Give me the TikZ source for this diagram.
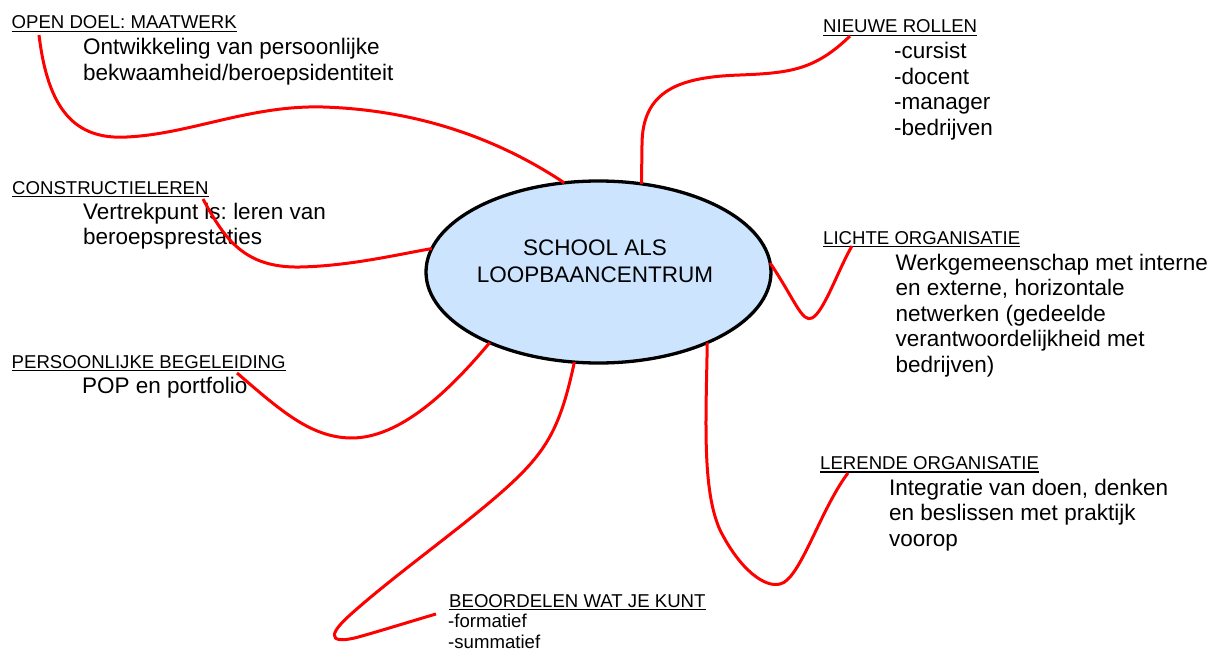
\documentclass[tikz,border=0pt]{standalone}
\usepackage{fontspec}
\setmainfont{Liberation Sans}
\usetikzlibrary{shapes.geometric}
\definecolor{ellfill}{RGB}{204,228,254}
\newcommand{\hdrfont}{\fontsize{18.6}{21}\selectfont}
\newcommand{\bodyfont}{\fontsize{22.5}{25.5}\selectfont}
\newcommand{\hubfont}{\fontsize{22.5}{27}\selectfont}
\frenchspacing
\begin{document}
\begin{tikzpicture}[x=1pt,y=-1pt,
  hdr/.style={font=\hdrfont, inner sep=0pt, anchor=base west, text=black},
  body/.style={font=\bodyfont, inner sep=0pt, anchor=base west, text=black},
  small/.style={font=\hdrfont, inner sep=0pt, anchor=base west, text=black},
  uline/.style={line width=1.4pt, draw=black},
  link/.style={draw=red, line width=3pt},
  hub/.style={ellipse, draw=black, line width=3.3pt, fill=ellfill,
    minimum width=345pt, minimum height=182pt, inner sep=0pt, outer sep=0pt}]
\useasboundingbox (0,0) rectangle (1216,650);

% central ellipse
\node[hub] (c) at (598.5,272) {};

% headers
\node[hdr] (h1) at (11.5,29) {OPEN DOEL: MAATWERK};
\node[hdr] (h2) at (823,33) {NIEUWE ROLLEN};
\node[hdr] (h3) at (12,194) {CONSTRUCTIELEREN};
\node[hdr] (h4) at (11.5,368) {PERSOONLIJKE BEGELEIDING};
\node[hdr] (h5) at (823,244) {LICHTE ORGANISATIE};
\node[hdr] (h6) at (820,469.5) {LERENDE ORGANISATIE};
\node[hdr] (h7) at (449,607) {BEOORDELEN WAT JE KUNT};
\foreach \h in {h1,h2,h3,h4,h5,h6,h7}
  \draw[uline] ([yshift=-2.3pt]\h.base west) -- ([yshift=-2.3pt]\h.base east);

% bodies
\node[body] (b1) at (83,55) {\begin{tabular}[t]{@{}l@{}}Ontwikkeling van persoonlijke\\bekwaamheid/beroepsidentiteit\end{tabular}};
\node[body] (b2) at (894,59) {\begin{tabular}[t]{@{}l@{}}-cursist\\-docent\\-manager\\-bedrijven\end{tabular}};
\node[body] (b3) at (83,219) {\begin{tabular}[t]{@{}l@{}}Vertrekpunt is: leren van\\beroepsprestaties\end{tabular}};
\node[body] (b4) at (82,393) {POP en portfolio};
\node[body] (b5) at (895.5,270) {\begin{tabular}[t]{@{}l@{}}Werkgemeenschap met interne\\en externe, horizontale\\netwerken (gedeelde\\verantwoordelijkheid met\\bedrijven)\end{tabular}};
\node[body] (b6) at (889,495) {\begin{tabular}[t]{@{}l@{}}Integratie van doen, denken\\en beslissen met praktijk\\voorop\end{tabular}};
\node[small] (b7) at (448,627) {\begin{tabular}[t]{@{}l@{}}-formatief\\-summatief\end{tabular}};

% hub text
\node[font=\hubfont, inner sep=0pt, anchor=base] (ct) at (595,255)
  {\begin{tabular}[t]{@{}c@{}}SCHOOL ALS\\LOOPBAANCENTRUM\end{tabular}};

% free ends of connectors
\coordinate (e1) at (39,35);
\coordinate (e2) at (850,36);
\coordinate (e3) at (203,199);
\coordinate (e4) at (237,373);
\coordinate (e5) at (436,614);
\coordinate (e6) at (852,246);
\coordinate (e7) at (848,473);

% connectors
\draw[link] (e1) .. controls (48,110) and (75,140) .. (127,137)
  .. controls (190,134) and (250,105) .. (323,107)
  .. controls (420,110) and (500,140) .. (c.111);
\draw[link] (e2) .. controls (815,70) and (790,73) .. (740,75)
  .. controls (680,77) and (642,90) .. (642,145) -- (c.64);
\draw[link] (e3) .. controls (225,240) and (245,268) .. (300,267)
  .. controls (350,266) and (400,254) .. (c.172);
\draw[link] (e4) .. controls (280,410) and (310,437) .. (350,438)
  .. controls (400,439) and (450,390) .. (c.213);
\draw[link] (c.255) .. controls (562,420) and (550,445) .. (520,475)
  .. controls (480,515) and (400,570) .. (350,615)
  .. controls (322,640) and (335,644) .. (362,636)
  .. controls (390,628) and (412,621) .. (e5);
\draw[link] (c.3) .. controls (795,300) and (802,323) .. (812,318)
  .. controls (824,312) and (838,270) .. (e6);
\draw[link] (c.327) .. controls (706,420) and (702,490) .. (720,530)
  .. controls (740,570) and (765,588) .. (780,584)
  .. controls (800,580) and (820,510) .. (e7);
\end{tikzpicture}
\end{document}
